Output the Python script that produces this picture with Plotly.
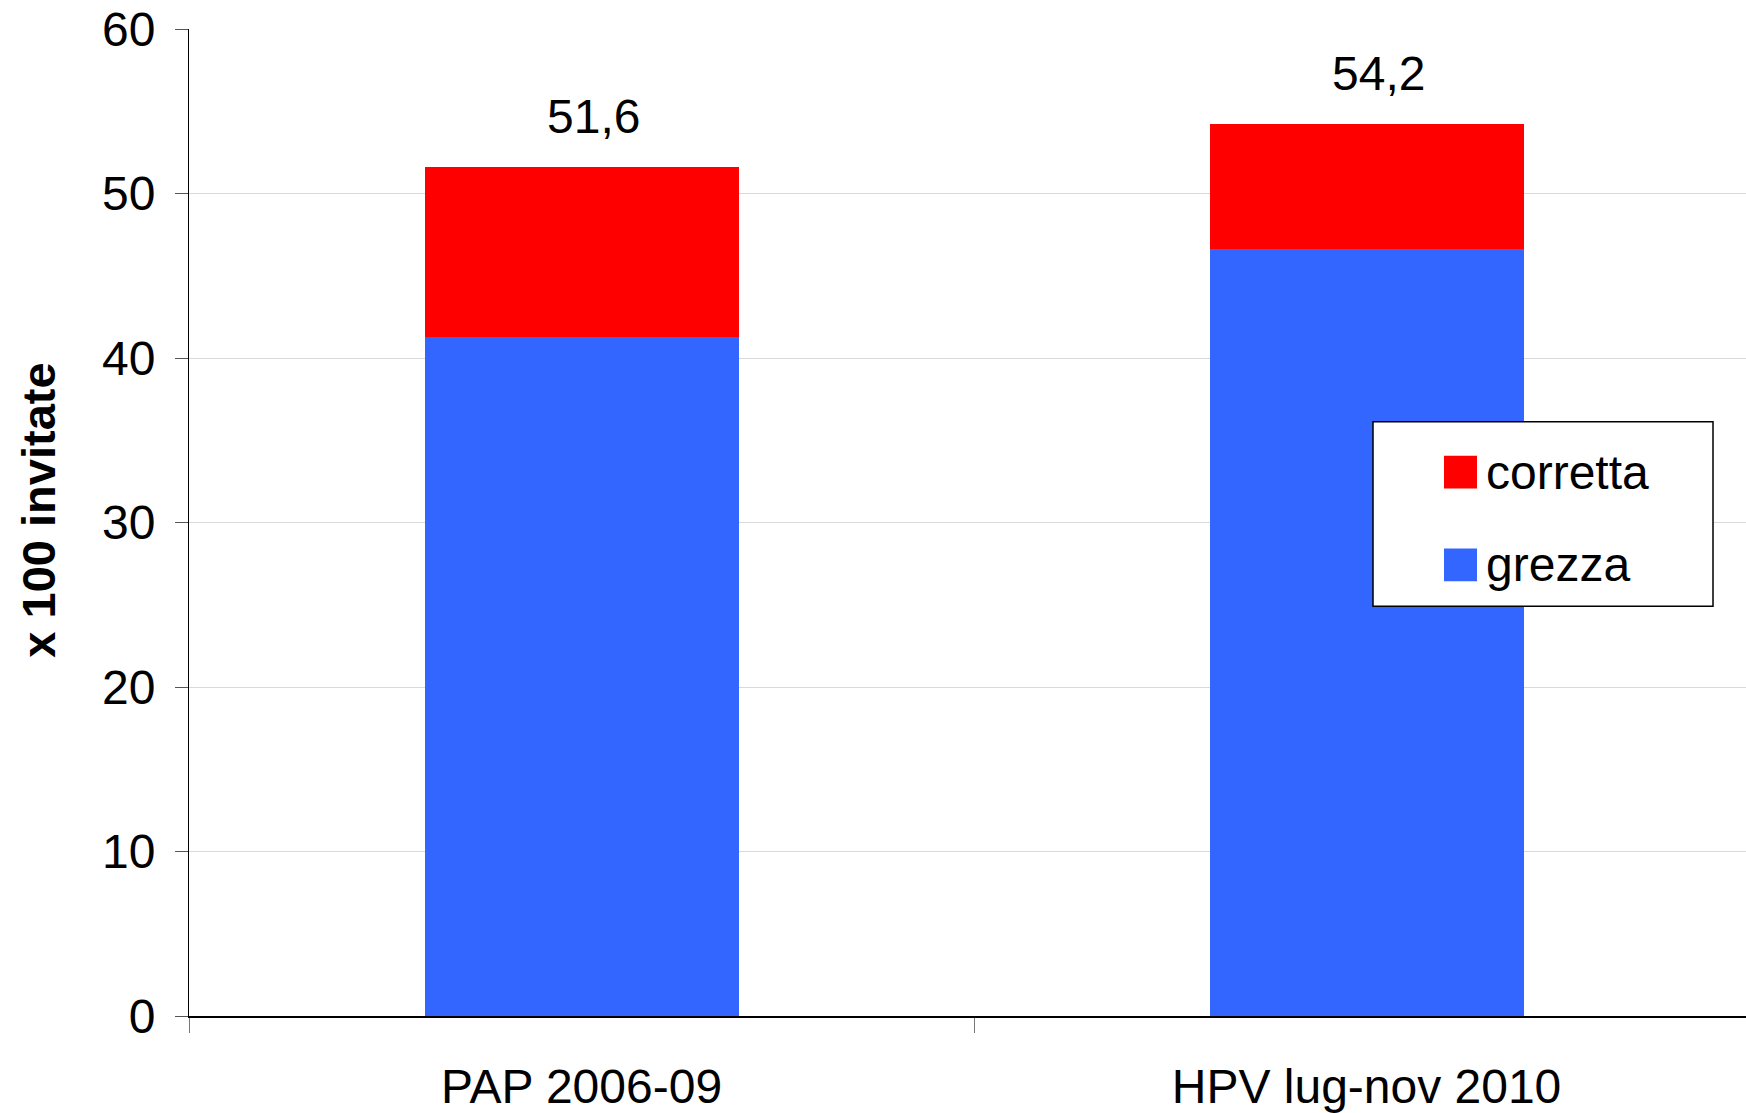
import plotly.graph_objects as go

categories = ["PAP 2006-09", "HPV lug-nov 2010"]
grezza = [41.3, 46.6]
corretta = [10.3, 7.6]
series_names = ["grezza", "corretta"]
y_ticks = [0, 10, 20, 30, 40, 50, 60]

FONT = "Arial, Liberation Sans, sans-serif"
BLUE = "#3366FF"
RED = "#FF0000"

W, H = 1746, 1113
ML, MR, MT, MB = 189, 0, 29, 94

fig = go.Figure()
fig.add_trace(go.Bar(x=categories, y=grezza, name=series_names[0],
                     marker=dict(color=BLUE, line=dict(width=0)), width=0.4))
fig.add_trace(go.Bar(x=categories, y=corretta, name=series_names[1],
                     marker=dict(color=RED, line=dict(width=0)), width=0.4))

totals = [g + c for g, c in zip(grezza, corretta)]
for cat, t in zip(categories, totals):
    fig.add_annotation(x=cat, y=t, text=f"{t:.1f}".replace(".", ","),
                       showarrow=False, yanchor="bottom", yshift=22, xshift=12,
                       font=dict(family=FONT, size=48, color="black"))

# y-axis title
fig.add_annotation(xref="paper", yref="paper", x=(39 - ML) / (W - ML), y=0.512,
                   text="<b>x 100 invitate</b>", textangle=-90, showarrow=False,
                   xanchor="center", yanchor="middle",
                   font=dict(family=FONT, size=47, color="black"))

# manual legend
pw = W - ML - MR
ph = H - MT - MB
def px(x):
    return (x - ML) / pw
def py(y):
    return (H - MB - y) / ph

fig.add_shape(type="rect", xref="paper", yref="paper",
              x0=px(1373), x1=px(1713), y0=py(608), y1=py(423),
              line=dict(color="black", width=1.5), fillcolor="white", layer="above")
legend_items = [(series_names[1], RED, 457), (series_names[0], BLUE, 550)]
for name, col, top in legend_items:
    fig.add_shape(type="rect", xref="paper", yref="paper",
                  x0=px(1444), x1=px(1477), y0=py(top + 33), y1=py(top),
                  line=dict(width=0), fillcolor=col, layer="above")
    fig.add_annotation(xref="paper", yref="paper", x=px(1484), y=py(top + 16.5),
                       text=name, showarrow=False, xanchor="left", yanchor="middle",
                       font=dict(family=FONT, size=48, color="black"))

fig.update_layout(
    width=W, height=H,
    margin=dict(l=ML, r=MR, t=MT, b=MB, pad=0),
    barmode="stack",
    showlegend=False,
    plot_bgcolor="white", paper_bgcolor="white",
    font=dict(family=FONT, size=48, color="black"),
)
fig.update_xaxes(
    type="category", range=[-0.5, 1.4834],
    showline=True, linecolor="black", linewidth=1.5,
    ticks="outside", tickson="boundaries", ticklen=15, tickcolor="#777777", tickwidth=1,
    showgrid=False, ticklabelstandoff=28,
    tickfont=dict(family=FONT, size=48, color="black"),
)
fig.update_yaxes(
    range=[0, 60], tickvals=y_ticks,
    showline=True, linecolor="black", linewidth=1,
    ticks="outside", ticklen=13, tickcolor="#555555", tickwidth=1,
    showgrid=True, gridcolor="#D9D9D9", gridwidth=1,
    zeroline=False, ticklabelstandoff=10,
    tickfont=dict(family=FONT, size=48, color="black"),
)

fig.write_html("out.html")
